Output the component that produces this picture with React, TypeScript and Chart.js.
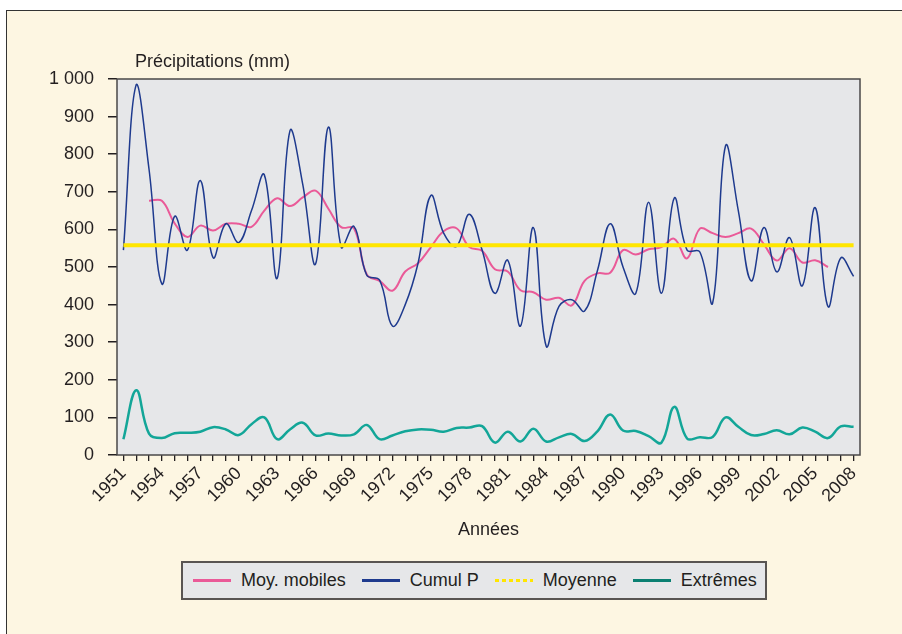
import { useEffect, useRef } from 'react';
import { Chart, registerables } from 'chart.js';

Chart.register(...registerables);

const years = [
  '1951', '1952', '1953', '1954', '1955', '1956', '1957', '1958', '1959', '1960',
  '1961', '1962', '1963', '1964', '1965', '1966', '1967', '1968', '1969', '1970',
  '1971', '1972', '1973', '1974', '1975', '1976', '1977', '1978', '1979', '1980',
  '1981', '1982', '1983', '1984', '1985', '1986', '1987', '1988', '1989', '1990',
  '1991', '1992', '1993', '1994', '1995', '1996', '1997', '1998', '1999', '2000',
  '2001', '2002', '2003', '2004', '2005', '2006', '2007', '2008',
];

const moyMobiles = [
  null, null, 676, 676, 616, 580, 610, 597, 615, 615,
  607, 650, 683, 662, 685, 703, 655, 606, 603, 480,
  463, 437, 488, 510, 553, 595, 603, 553, 543, 494,
  488, 438, 433, 413, 418, 398, 463, 483, 485, 545,
  533, 547, 553, 575, 523, 602, 590, 580, 590, 602,
  560, 517, 550, 512, 518, 500, null, null,
];

const cumulP = [
  545, 985, 760, 455, 635, 545, 730, 525, 615, 565,
  650, 745, 470, 862, 720, 508, 872, 553, 608, 478,
  465, 343, 400, 510, 690, 590, 555, 640, 545, 430,
  518, 343, 605, 290, 395, 413, 383, 490, 615, 500,
  430, 672, 430, 683, 545, 540, 405, 822, 650, 463,
  605, 487, 578, 450, 658, 395, 524, 475,
];

const moyenne = [
  558, 558, 558, 558, 558, 558, 558, 558, 558, 558,
  558, 558, 558, 558, 558, 558, 558, 558, 558, 558,
  558, 558, 558, 558, 558, 558, 558, 558, 558, 558,
  558, 558, 558, 558, 558, 558, 558, 558, 558, 558,
  558, 558, 558, 558, 558, 558, 558, 558, 558, 558,
  558, 558, 558, 558, 558, 558, 558, 558,
];

const extremes = [
  42, 172, 57, 45, 58, 59, 62, 74, 68, 53,
  82, 100, 42, 68, 86, 52, 57, 52, 55, 80,
  42, 52, 63, 68, 67, 62, 72, 73, 77, 33,
  62, 36, 70, 36, 47, 56, 37, 63, 108, 65,
  64, 50, 33, 128, 44, 47, 48, 100, 75, 53,
  56, 66, 55, 73, 62, 45, 76, 75,
];

const seriesNames = ['Moy. mobiles', 'Cumul P', 'Moyenne', 'Extrêmes'];
const yAxisTitle = 'Précipitations (mm)';
const xAxisTitle = 'Années';

const FONT = '"Liberation Sans", Arial, Helvetica, sans-serif';
const TEXT = '#231F20';
const C_PINK = '#EA5A98';
const C_NAVY = '#1E3A8E';
const C_YELLOW = '#FFE600';
const C_TEAL = '#13A698';
const C_TEAL_LEG = '#0B8072';

function fmtY(v: number): string {
  if (v >= 1000) {
    return Math.floor(v / 1000) + ' ' + String(v % 1000).padStart(3, '0');
  }
  return String(v);
}

export default function App() {
  const ref = useRef<HTMLCanvasElement>(null);

  useEffect(() => {
    const canvas = ref.current;
    if (!canvas) return;

    const plotFrame = {
      id: 'plotFrame',
      beforeDatasetsDraw(chart: any) {
        const { ctx, chartArea: a } = chart;
        ctx.save();
        ctx.fillStyle = '#E6E7E9';
        ctx.fillRect(a.left, a.top, a.right - a.left, a.bottom - a.top);
        ctx.restore();
      },
      afterDraw(chart: any) {
        const { ctx, chartArea: a } = chart;
        ctx.save();
        ctx.strokeStyle = '#4A4848';
        ctx.lineWidth = 1.5;
        ctx.strokeRect(a.left, a.top, a.right - a.left, a.bottom - a.top);
        ctx.restore();
      },
    };

    const chart = new Chart(canvas, {
      type: 'line',
      data: {
        labels: years,
        datasets: [
          {
            label: seriesNames[0],
            data: moyMobiles,
            borderColor: C_PINK,
            backgroundColor: C_PINK,
            borderWidth: 2,
            pointRadius: 0,
            tension: 0.4,
            order: 3,
          },
          {
            label: seriesNames[1],
            data: cumulP,
            borderColor: C_NAVY,
            backgroundColor: C_NAVY,
            borderWidth: 1.5,
            pointRadius: 0,
            tension: 0.4,
            order: 2,
          },
          {
            label: seriesNames[2],
            data: moyenne,
            borderColor: C_YELLOW,
            backgroundColor: C_YELLOW,
            borderWidth: 4,
            pointRadius: 0,
            tension: 0,
            order: 1,
          },
          {
            label: seriesNames[3],
            data: extremes,
            borderColor: C_TEAL,
            backgroundColor: C_TEAL,
            borderWidth: 2.5,
            pointRadius: 0,
            tension: 0.4,
            order: 0,
          },
        ],
      },
      options: {
        responsive: false,
        animation: false,
        devicePixelRatio: 1,
        layout: { padding: { left: 0, top: 79, right: 42, bottom: 93 } },
        plugins: {
          legend: { display: false },
          tooltip: { enabled: false },
          title: { display: false },
        },
        scales: {
          x: {
            type: 'category',
            offset: true,
            border: { display: false },
            grid: {
              display: true,
              drawOnChartArea: false,
              drawTicks: true,
              tickLength: 6,
              color: '#231F20',
              lineWidth: 1.3,
              offset: false,
            },
            ticks: {
              autoSkip: false,
              minRotation: 45,
              maxRotation: 45,
              padding: 2,
              color: TEXT,
              font: { family: FONT, size: 18 },
              callback: (_v: any, i: number) => (i % 3 === 0 ? years[i] : ''),
            },
            title: {
              display: true,
              text: xAxisTitle,
              color: TEXT,
              font: { family: FONT, size: 18 },
              padding: 0,
            },
            afterFit: (s: any) => {
              s.height = 86;
              s.paddingLeft = 0;
              s.paddingRight = 0;
            },
          },
          y: {
            min: 0,
            max: 1000,
            border: { display: false },
            grid: {
              display: true,
              drawOnChartArea: false,
              drawTicks: true,
              tickLength: 9,
              color: '#231F20',
              lineWidth: 1.5,
            },
            ticks: {
              stepSize: 100,
              padding: 14,
              color: TEXT,
              font: { family: FONT, size: 18 },
              callback: (v: any) => fmtY(Number(v)),
            },
            afterFit: (s: any) => {
              s.width = 117;
              s.paddingTop = 0;
              s.paddingBottom = 0;
            },
          },
        },
      },
      plugins: [plotFrame],
    } as any);

    return () => chart.destroy();
  }, []);

  const legendItems = [
    { name: seriesNames[0], color: C_PINK, dashed: false },
    { name: seriesNames[1], color: C_NAVY, dashed: false },
    { name: seriesNames[2], color: C_YELLOW, dashed: true },
    { name: seriesNames[3], color: C_TEAL_LEG, dashed: false },
  ];

  return (
    <div style={{ position: 'absolute', left: 0, top: 0, width: 902, height: 634, overflow: 'hidden', background: '#fff', fontFamily: FONT }}>
      <div
        style={{
          position: 'absolute',
          left: 6,
          top: 10,
          width: 920,
          height: 650,
          boxSizing: 'border-box',
          borderLeft: '1.5px solid #333',
          borderTop: '1.5px solid #333',
          background: '#FDF6E2',
        }}
      />
      <canvas ref={ref} width={902} height={634} style={{ position: 'absolute', left: 0, top: 0, width: 902, height: 634 }} />
      <div style={{ position: 'absolute', left: 135, top: 51, fontSize: 18, lineHeight: '21px', color: TEXT, whiteSpace: 'nowrap' }}>
        {yAxisTitle}
      </div>
      <div
        style={{
          position: 'absolute',
          left: 181,
          top: 561,
          width: 586,
          height: 39,
          boxSizing: 'border-box',
          border: '2px solid #595552',
          background: '#E6E7E9',
          display: 'flex',
          alignItems: 'center',
          paddingLeft: 10,
          fontSize: 18,
          color: TEXT,
          whiteSpace: 'nowrap',
        }}
      >
        {legendItems.map((it) => (
          <div key={it.name} style={{ display: 'flex', alignItems: 'center', marginRight: 16 }}>
            <span
              style={{
                display: 'inline-block',
                width: 38,
                height: 2.5,
                marginRight: 10,
                background: it.dashed
                  ? `repeating-linear-gradient(to right, ${it.color} 0 4px, transparent 4px 7px)`
                  : it.color,
              }}
            />
            <span>{it.name}</span>
          </div>
        ))}
      </div>
    </div>
  );
}
